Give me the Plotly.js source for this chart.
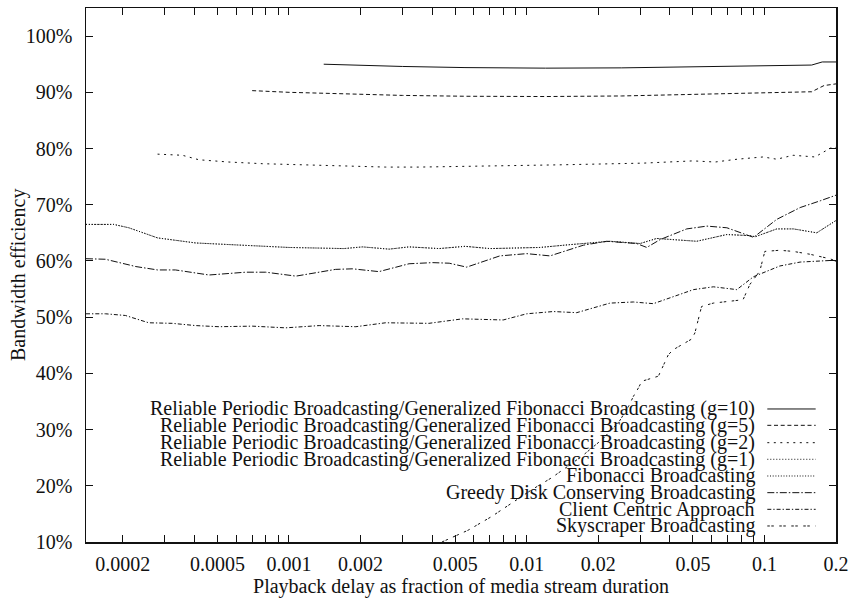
<!DOCTYPE html>
<html>
<head>
<meta charset="utf-8">
<script src="https://cdn.plot.ly/plotly-3.0.1.min.js"></script>
<style>
  html, body { margin: 0; padding: 0; background: #fff; }
  #chart { width: 850px; height: 599px; }
</style>
</head>
<body>
<div id="chart"></div>
<script>
// Bandwidth efficiency of broadcasting schemes vs. playback delay (log x axis)

const seriesNames = [
  "Reliable Periodic Broadcasting/Generalized Fibonacci Broadcasting (g=10)",
  "Reliable Periodic Broadcasting/Generalized Fibonacci Broadcasting (g=5)",
  "Reliable Periodic Broadcasting/Generalized Fibonacci Broadcasting (g=2)",
  "Reliable Periodic Broadcasting/Generalized Fibonacci Broadcasting (g=1)",
  "Fibonacci Broadcasting",
  "Greedy Disk Conserving Broadcasting",
  "Client Centric Approach",
  "Skyscraper Broadcasting"
];

// Playback delay (fraction of stream duration) and efficiency (%) per scheme
const g10X = [0.0014, 0.002, 0.003, 0.0055, 0.012, 0.025, 0.05, 0.1, 0.158, 0.175, 0.2];
const g10Y = [95.0, 94.8, 94.6, 94.4, 94.3, 94.35, 94.5, 94.7, 94.85, 95.4, 95.4];

const g5X = [0.0007, 0.001, 0.0015, 0.003, 0.0055, 0.012, 0.025, 0.036, 0.06, 0.096, 0.158, 0.178, 0.2];
const g5Y = [90.3, 90.0, 89.8, 89.45, 89.3, 89.25, 89.35, 89.5, 89.7, 89.9, 90.1, 91.2, 91.5];

const g2X = [0.00028, 0.000356, 0.000418, 0.000558, 0.000773, 0.0011, 0.00185, 0.00255, 0.00352, 0.00554,
             0.0138, 0.0308, 0.0501, 0.062, 0.0767, 0.0987, 0.1127, 0.132, 0.163, 0.192, 0.2];
const g2Y = [79.0, 78.8, 78.0, 77.6, 77.3, 77.1, 76.8, 76.7, 76.7, 76.8,
             77.1, 77.4, 77.8, 77.6, 78.1, 78.5, 78.1, 78.8, 78.5, 80.2, 80.2];

const g1X = [0.00014, 0.000183, 0.000212, 0.00028, 0.000405, 0.00064, 0.001, 0.0017, 0.00204, 0.00264, 0.0032,
             0.00428, 0.0055, 0.007, 0.01137, 0.0152, 0.0224, 0.03, 0.0352, 0.0519, 0.0695, 0.0871, 0.0914,
             0.1127, 0.1325, 0.166, 0.2];
const g1Y = [66.5, 66.5, 65.9, 64.1, 63.2, 62.8, 62.4, 62.2, 62.5, 62.1, 62.5,
             62.2, 62.6, 62.2, 62.4, 62.9, 63.5, 63.1, 64.0, 63.5, 64.7, 64.5, 64.3,
             65.7, 65.7, 65.0, 67.2];

// Fibonacci Broadcasting coincides with the g=1 case
const fibX = g1X.slice();
const fibY = g1Y.slice();

const gdcX = [0.00014, 0.000169, 0.000227, 0.00028, 0.000333, 0.000461, 0.000657, 0.000798, 0.00107, 0.00157,
              0.00185, 0.00239, 0.0032, 0.00402, 0.00472, 0.00559, 0.00771, 0.01, 0.01253, 0.0173, 0.0217,
              0.029, 0.032, 0.0364, 0.0471, 0.0573, 0.0695, 0.09, 0.1127, 0.1413, 0.1717, 0.2];
const gdcY = [60.4, 60.3, 59.0, 58.4, 58.4, 57.5, 58.0, 58.0, 57.3, 58.5,
              58.6, 58.1, 59.5, 59.7, 59.6, 58.9, 60.9, 61.3, 60.9, 62.8, 63.5,
              63.1, 62.4, 63.8, 65.7, 66.2, 65.9, 64.2, 67.4, 69.5, 70.7, 71.7];

const ccaX = [0.00014, 0.000169, 0.000205, 0.000257, 0.000323, 0.000405, 0.000507, 0.000701, 0.000968, 0.00134,
              0.00191, 0.00255, 0.00388, 0.00537, 0.00796, 0.01, 0.01294, 0.01623, 0.0224, 0.0281, 0.0341,
              0.0503, 0.061, 0.0765, 0.09, 0.116, 0.1413, 0.192, 0.2];
const ccaY = [50.6, 50.6, 50.3, 49.0, 48.9, 48.5, 48.3, 48.4, 48.1, 48.5,
              48.3, 49.0, 48.9, 49.7, 49.5, 50.6, 51.0, 50.8, 52.5, 52.7, 52.4,
              54.9, 55.4, 54.9, 57.2, 59.1, 59.8, 60.1, 60.0];

const skyX = [0.0044, 0.00567, 0.0071, 0.0086, 0.0105, 0.0127, 0.0149, 0.017, 0.0207, 0.0243, 0.0268,
              0.0281, 0.0295, 0.0305, 0.0358, 0.0376, 0.0394, 0.0413, 0.0494, 0.051, 0.0544, 0.0609,
              0.0813, 0.0868, 0.0956, 0.1004, 0.116, 0.132, 0.155, 0.188, 0.2];
const skyY = [10.0, 12.1, 14.5, 16.9, 19.3, 21.4, 23.4, 25.2, 28.2, 31.2, 34.1,
              35.9, 37.4, 38.6, 39.5, 41.3, 43.3, 44.2, 46.1, 47.2, 51.9, 52.5,
              53.1, 55.8, 58.2, 61.7, 61.9, 61.7, 61.2, 60.4, 60.0];

// Axis ticks: every minor position gets a tick, only some carry a label
const xTickVals = [0.0002, 0.0003, 0.0004, 0.0005, 0.0006, 0.0007, 0.0008, 0.0009,
                   0.001, 0.002, 0.003, 0.004, 0.005, 0.006, 0.007, 0.008, 0.009,
                   0.01, 0.02, 0.03, 0.04, 0.05, 0.06, 0.07, 0.08, 0.09, 0.1, 0.2];
const xTickText = ["0.0002", "", "", "0.0005", "", "", "", "",
                   "0.001", "0.002", "", "", "0.005", "", "", "", "",
                   "0.01", "0.02", "", "", "0.05", "", "", "", "", "0.1", "0.2"];
const yTickVals = [10, 20, 30, 40, 50, 60, 70, 80, 90, 100];
const yTickText = yTickVals.map(v => v + "%");

const xTitle = "Playback delay as fraction of media stream duration";
const yTitle = "Bandwidth efficiency";

const xs = [g10X, g5X, g2X, g1X, fibX, gdcX, ccaX, skyX];
const ys = [g10Y, g5Y, g2Y, g1Y, fibY, gdcY, ccaY, skyY];
const dashes = [
  "solid",
  "4px,2.7px",
  "2px,4.5px",
  "1px,2px",
  "1px,1.7px",
  "7px,2px,1.5px,2px",
  "4px,2px,1.3px,2px",
  "2.5px,1.5px,2.5px,5.5px"
];

const ink = "#111";
const font = "'Liberation Serif', 'Times New Roman', Times, serif";
const fs = 20;

const traces = xs.map((x, i) => ({
  type: "scatter",
  mode: "lines",
  name: seriesNames[i],
  x: x,
  y: ys[i],
  line: { color: ink, width: 1, dash: dashes[i] },
  showlegend: false,
  hoverinfo: "skip"
}));

// Key in the lower right: right-aligned labels with line samples after them
const keyRows = [0.2491, 0.2185, 0.1860, 0.1549, 0.1236, 0.0924, 0.0612, 0.0300];
const annotations = seriesNames.map((n, i) => ({
  xref: "paper", yref: "paper",
  x: 0.8943, y: keyRows[i],
  xanchor: "right", yanchor: "middle",
  text: n, showarrow: false,
  font: { family: font, size: fs, color: ink }
}));
// Vertical axis label, set just left of the tick labels
annotations.push({
  xref: "paper", yref: "paper",
  x: -0.0907, y: 0.5,
  xanchor: "center", yanchor: "middle",
  textangle: -90,
  text: yTitle, showarrow: false,
  font: { family: font, size: fs, color: ink }
});
const shapes = seriesNames.map((n, i) => ({
  type: "line", xref: "paper", yref: "paper",
  x0: 0.9084, x1: 0.9729, y0: keyRows[i], y1: keyRows[i],
  line: { color: ink, width: 1, dash: dashes[i] }
}));

const layout = {
  width: 850, height: 599,
  margin: { l: 86, r: 14, t: 8, b: 57 },
  paper_bgcolor: "#fff",
  plot_bgcolor: "#fff",
  font: { family: font, size: fs, color: ink },
  showlegend: false,
  xaxis: {
    type: "log",
    range: [Math.log10(0.00014), Math.log10(0.2)],
    tickmode: "array",
    tickvals: xTickVals,
    ticktext: xTickText,
    ticks: "inside", ticklen: 7, tickwidth: 1, tickcolor: ink,
    showline: true, linecolor: ink, linewidth: 1.5, mirror: "ticks",
    showgrid: false, zeroline: false,
    ticklabelstandoff: 3,
    title: { text: xTitle, standoff: 1, font: { family: font, size: fs, color: ink } }
  },
  yaxis: {
    range: [10, 105],
    tickmode: "array",
    tickvals: yTickVals,
    ticktext: yTickText,
    ticks: "inside", ticklen: 7, tickwidth: 1, tickcolor: ink,
    showline: true, linecolor: ink, linewidth: 1.5, mirror: "ticks",
    showgrid: false, zeroline: false,
    ticklabelstandoff: 8
  },
  annotations: annotations,
  shapes: shapes
};

Plotly.newPlot("chart", traces, layout, { displayModeBar: false, staticPlot: true });
</script>
</body>
</html>
